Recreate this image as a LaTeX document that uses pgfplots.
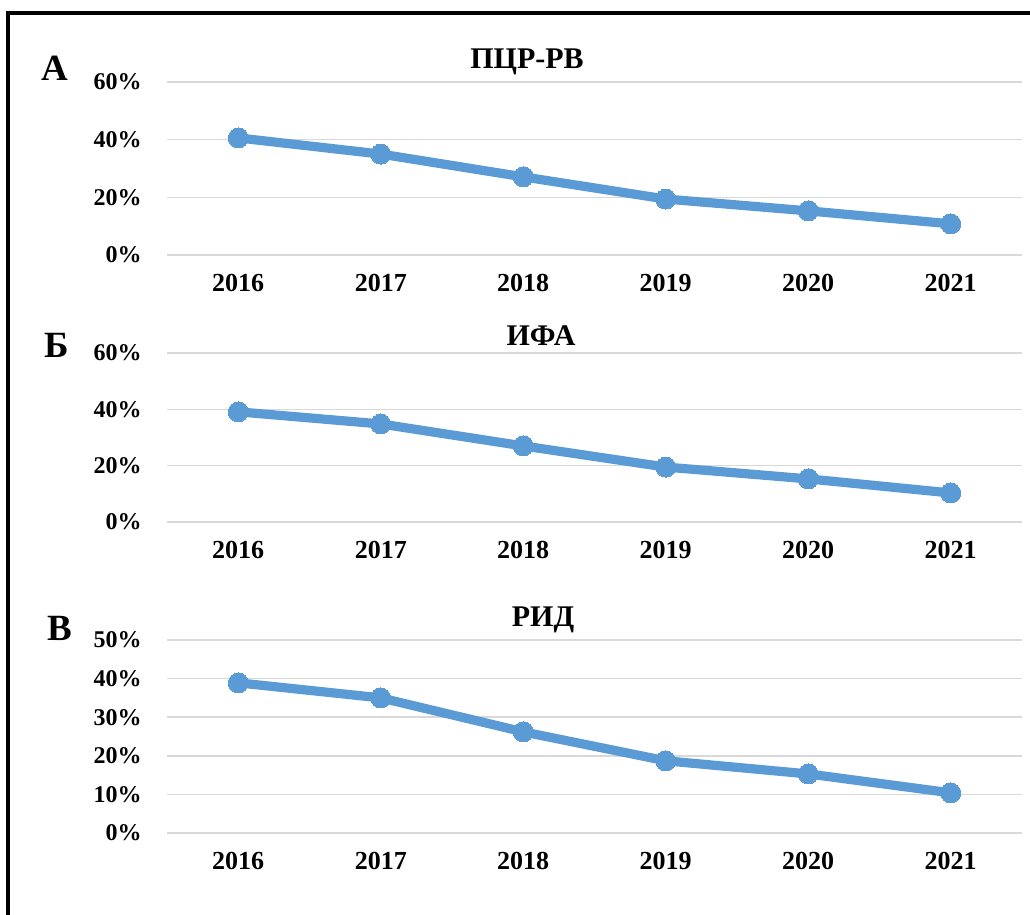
\documentclass[border=0pt]{standalone}
\usepackage{pgfplots}
\pgfplotsset{compat=1.18}
\usepackage{fontspec}
\setmainfont{Liberation Serif}
\definecolor{lineblue}{HTML}{5B9BD5}
\definecolor{gridgray}{HTML}{D9D9D9}
\pgfplotsset{
  panel/.style={
    scale only axis,
    width=427.5pt,
    xmin=-0.5, xmax=5.5,
    ymin=0,
    xtick={0,...,5},
    xticklabels={2016,2017,2018,2019,2020,2021},
    axis line style={draw=none},
    major tick length=0pt,
    ymajorgrids,
    grid style={gridgray, line width=0.75pt},
    /pgf/number format/assume math mode=true,
    yticklabel={\pgfmathprintnumber{\tick}\%},
    yticklabel style={font=\bfseries\fontsize{12}{14}\selectfont, inner sep=0pt, anchor=east, xshift=-12.5pt},
    xticklabel style={font=\bfseries\fontsize{13}{15}\selectfont, inner sep=0pt, anchor=north, yshift=-9.5pt},
    clip=false,
    anchor=south west,
  },
  series/.style={lineblue, line width=4.6pt, mark=*, mark size=5pt, mark options={fill=lineblue, draw=lineblue, line width=0pt}},
}
\begin{document}
\begin{tikzpicture}[x=0.5pt, y=0.5pt]
\path[use as bounding box] (0,0) rectangle (1030,915);
\fill[white] (0,0) rectangle (1030,915);
% frame
\draw[black, line width=1.6pt] (8,0) -- (8,902) -- (1030,902);
\coordinate (pA) at (167,660);
\coordinate (pB) at (167,393);
\coordinate (pC) at (167,82);

% Panel A
\begin{axis}[panel, at={(pA)}, height=86.5pt, ymax=60, ytick={0,20,40,60}]
\addplot[series] coordinates {(0,40.6) (1,35.0) (2,27.1) (3,19.4) (4,15.3) (5,10.8)};
\end{axis}
\node[font=\bfseries\fontsize{15}{17}\selectfont] at (527,853) {ПЦР-РВ};
\node[font=\bfseries\fontsize{18.5}{20}\selectfont] at (55,847) {А};

% Panel B
\begin{axis}[panel, at={(pB)}, height=84.5pt, ymax=60, ytick={0,20,40,60}]
\addplot[series] coordinates {(0,39.1) (1,34.8) (2,27.0) (3,19.5) (4,15.3) (5,10.3)};
\end{axis}
\node[font=\bfseries\fontsize{15}{17}\selectfont] at (541,579) {ИФА};
\node[font=\bfseries\fontsize{18.5}{20}\selectfont] at (57,570) {Б};

% Panel C
\begin{axis}[panel, at={(pC)}, height=96.5pt, ymax=50, ytick={0,10,20,30,40,50}]
\addplot[series] coordinates {(0,38.9) (1,35.0) (2,26.2) (3,18.7) (4,15.3) (5,10.4)};
\end{axis}
\node[font=\bfseries\fontsize{15}{17}\selectfont] at (543,295) {РИД};
\node[font=\bfseries\fontsize{18.5}{20}\selectfont] at (60,287) {В};
\end{tikzpicture}
\end{document}
